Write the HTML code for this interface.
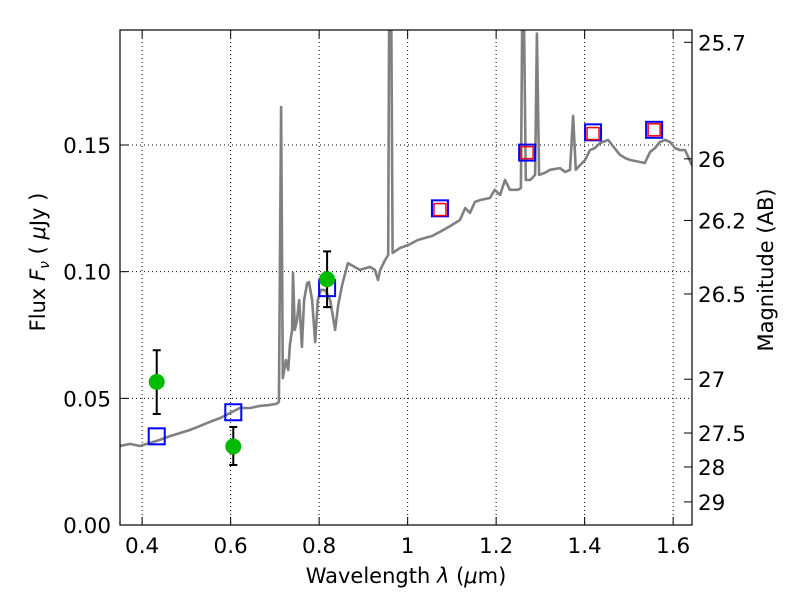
<!DOCTYPE html>
<html><head><meta charset="utf-8"><style>
body{margin:0;background:#fff;}
svg text{font-family:"DejaVu Sans","Liberation Sans",sans-serif;fill:#000;}
</style></head><body>
<svg id="chart" width="800" height="600" xmlns="http://www.w3.org/2000/svg">
<defs><clipPath id="clip"><rect x="120" y="30" width="572" height="495"/></clipPath></defs>
<rect x="0" y="0" width="800" height="600" fill="#fff"/>
<g id="grid"></g>
<g id="spec" clip-path="url(#clip)"></g>
<g id="marks"></g>
<rect x="120" y="30" width="572" height="495" fill="none" stroke="#000" stroke-width="1.2"/>
<g id="axes"></g>
<text x="406" y="583" font-size="21" text-anchor="middle">Wavelength  <tspan font-style="italic">λ</tspan> (<tspan font-style="italic">μ</tspan>m)</text>
<text transform="translate(45,262) rotate(-90)" font-size="21" text-anchor="middle">Flux  <tspan font-style="italic">F</tspan><tspan font-style="italic" font-size="14" dy="4">ν</tspan><tspan dy="-4"> (  </tspan><tspan font-style="italic">μ</tspan>Jy )</text>
<text transform="translate(773,270) rotate(-90)" font-size="21" text-anchor="middle">Magnitude (AB)</text>
</svg>
<script>
const specLam=[0.350,0.373,0.395,0.418,0.440,0.463,0.486,0.508,0.531,0.553,0.576,0.603,0.621,0.644,0.666,0.689,0.703,0.709,0.714,0.718,0.725,0.730,0.734,0.739,0.741,0.745,0.750,0.755,0.761,0.766,0.773,0.777,0.784,0.791,0.797,0.804,0.813,0.825,0.836,0.843,0.852,0.865,0.892,0.915,0.926,0.933,0.938,0.949,0.956,0.958,0.963,0.966,0.983,1.001,1.023,1.039,1.055,1.073,1.096,1.118,1.130,1.141,1.152,1.164,1.186,1.197,1.209,1.220,1.231,1.249,1.256,1.259,1.263,1.267,1.277,1.288,1.292,1.297,1.310,1.322,1.344,1.356,1.367,1.374,1.380,1.390,1.401,1.412,1.423,1.435,1.453,1.462,1.480,1.491,1.503,1.525,1.536,1.548,1.559,1.570,1.582,1.593,1.604,1.616,1.627,1.643];
const specFlux=[0.0312,0.032,0.0312,0.0324,0.0336,0.0351,0.0363,0.0375,0.0391,0.0407,0.0422,0.0446,0.0462,0.0462,0.047,0.0474,0.0478,0.0486,0.165,0.058,0.0651,0.0612,0.0711,0.077,0.0995,0.077,0.0809,0.0888,0.0703,0.0888,0.0955,0.0959,0.0888,0.0722,0.0888,0.0928,0.0928,0.0888,0.077,0.0868,0.0947,0.1034,0.1007,0.1019,0.1007,0.0967,0.1007,0.1046,0.1066,0.2,0.2,0.1074,0.1094,0.1105,0.1125,0.1133,0.1141,0.1157,0.118,0.1204,0.1251,0.1232,0.1275,0.1283,0.1291,0.1323,0.1303,0.1362,0.1323,0.1323,0.133,0.2,0.2,0.1362,0.1362,0.1382,0.194,0.1382,0.139,0.1402,0.1409,0.1394,0.1402,0.1615,0.1402,0.1421,0.1441,0.148,0.1488,0.1508,0.152,0.15,0.1461,0.1449,0.1441,0.1433,0.1429,0.1473,0.1488,0.1512,0.152,0.1512,0.1488,0.148,0.148,0.1417];
const obsLam=[0.433,0.606,0.818];
const obsFlux=[0.0565,0.031,0.097];
const obsLo=[0.0438,0.0237,0.086];
const obsHi=[0.069,0.0387,0.108];
const modelLam=[0.433,0.606,0.818,1.073,1.270,1.419,1.557];
const modelFlux=[0.035,0.0445,0.0935,0.125,0.147,0.155,0.156];
const redLam=[1.073,1.270,1.419,1.557];
const redFlux=[0.1245,0.147,0.1545,0.156];
const xTicks=[0.4,0.6,0.8,1.0,1.2,1.4,1.6];
const xTickLabels=["0.4","0.6","0.8","1","1.2","1.4","1.6"];
const yTicks=[0,0.05,0.10,0.15];
const yTickLabels=["0.00","0.05","0.10","0.15"];
const magTicks=[25.7,26,26.2,26.5,27,27.5,28,29];
const magTickLabels=["25.7","26","26.2","26.5","27","27.5","28","29"];

const X0=120,X1=692,Y0=525,Y1=30,XMIN=0.35,XMAX=1.6426,YMIN=0,YMAX=0.1954;
const xs=v=>X0+(v-XMIN)/(XMAX-XMIN)*(X1-X0);
const ys=v=>Y0-(v-YMIN)/(YMAX-YMIN)*(Y0-Y1);
const magToFlux=m=>Math.pow(10,(23.9-m)/2.5);
const NS="http://www.w3.org/2000/svg";
function mk(tag,attrs,parent){const e=document.createElementNS(NS,tag);for(const k in attrs)e.setAttribute(k,attrs[k]);parent.appendChild(e);return e;}
const grid=document.getElementById('grid'),axes=document.getElementById('axes'),spec=document.getElementById('spec'),marks=document.getElementById('marks');

xTicks.forEach((t,i)=>{const x=xs(t);
 let g=mk('line',{x1:x,x2:x,y1:Y1,y2:Y0,stroke:'#000','stroke-width':1,'stroke-dasharray':'1,3'},grid);
 
 
 let a=mk('line',{x1:x,x2:x,y1:Y0,y2:Y0-8,stroke:'#000'},axes);
 
 
 let b=mk('line',{x1:x,x2:x,y1:Y1,y2:Y1+8,stroke:'#000'},axes);
 
 
 let l=mk('text',{x:x,y:553,'font-size':21.5,'text-anchor':'middle'},axes);l.textContent=xTickLabels[i];
 
 
});
yTicks.forEach((t,i)=>{const y=ys(t);
 let g=mk('line',{x1:X0,x2:X1,y1:y,y2:y,stroke:'#000','stroke-width':1,'stroke-dasharray':'1,3'},grid);
 
 
 let a=mk('line',{x1:X0,x2:X0+8,y1:y,y2:y,stroke:'#000'},axes);
 
 
 let l=mk('text',{x:111,y:y+8,'font-size':21.5,'text-anchor':'end'},axes);l.textContent=yTickLabels[i];
 
 
});
magTicks.forEach((m,i)=>{const y=ys(magToFlux(m));
 let a=mk('line',{x1:X1,x2:X1-8,y1:y,y2:y,stroke:'#000'},axes);
 
 
 let l=mk('text',{x:698,y:y+8,'font-size':21.5,'text-anchor':'start'},axes);l.textContent=magTickLabels[i];
 
 
});

let d=specLam.map((v,i)=>(i?'L':'M')+xs(v).toFixed(1)+','+ys(specFlux[i]).toFixed(1)).join(' ');
let sp=mk('path',{d:d,fill:'none',stroke:'#808080','stroke-width':2.6,'stroke-linejoin':'round'},spec);



modelLam.forEach((v,i)=>{const x=xs(v),y=ys(modelFlux[i]);
 let r=mk('rect',{x:x-8,y:y-8,width:16,height:16,fill:'none',stroke:'#0000ff','stroke-width':2},marks);
 
 
});
redLam.forEach((v,i)=>{const x=xs(v),y=ys(redFlux[i]);
 let r=mk('rect',{x:x-6,y:y-6,width:12,height:12,fill:'none',stroke:'#ff0000','stroke-width':1.5},marks);
 
 
});
obsLam.forEach((v,i)=>{const x=xs(v),yl=ys(obsLo[i]),yh=ys(obsHi[i]);
 let e=mk('path',{d:`M${x},${yl}L${x},${yh}M${x-4},${yl}L${x+4},${yl}M${x-4},${yh}L${x+4},${yh}`,stroke:'#000','stroke-width':2,fill:'none'},marks);
 
 
 let c=mk('circle',{cx:x,cy:ys(obsFlux[i]),r:8,fill:'#00bb00'},marks);
 
 
});
</script>
</body></html>
